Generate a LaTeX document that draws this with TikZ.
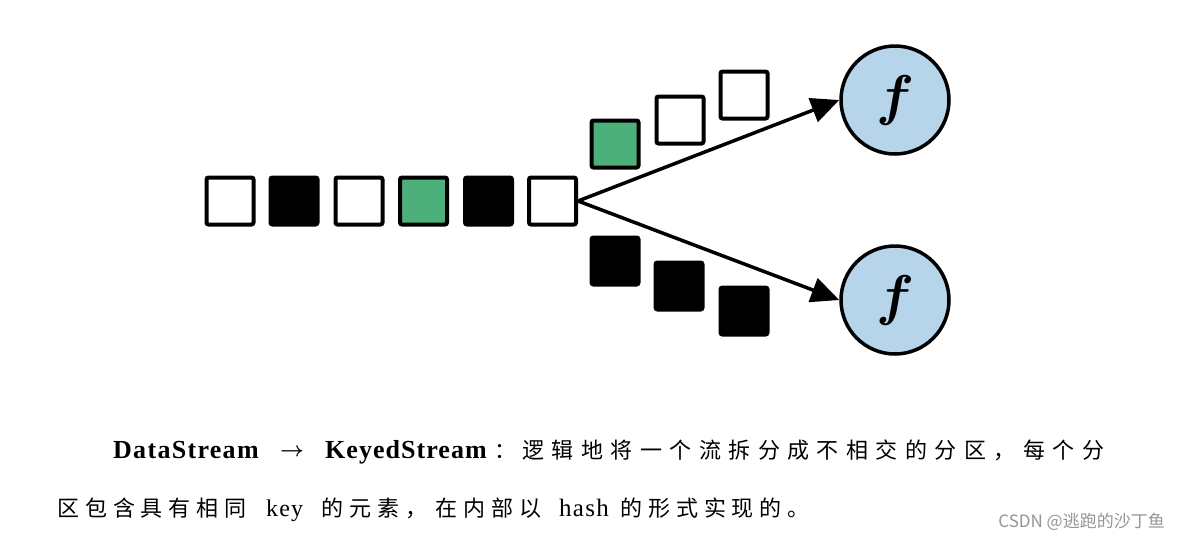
\documentclass[tikz,border=0pt]{standalone}
\usepackage{fontspec}
\setmainfont{Liberation Serif}
\newfontfamily\cjk{Noto Sans CJK SC}
\newfontfamily\cjkA[LetterSpace=34]{Noto Sans CJK SC}
\newfontfamily\cjkB[LetterSpace=27]{Noto Sans CJK SC}
\usetikzlibrary{arrows.meta}
\definecolor{grn}{RGB}{77,176,122}
\definecolor{fblue}{RGB}{182,212,234}
\definecolor{wm}{RGB}{150,150,150}
\tikzset{
 sq/.style={draw=black, line width=4pt, minimum size=47pt, inner sep=0pt, rounded corners=2pt},
 wsq/.style={sq, fill=white},
 bsq/.style={sq, fill=black},
 gsq/.style={sq, fill=grn},
 fn/.style={circle, draw=black, line width=3.5pt, fill=fblue, minimum size=108pt, inner sep=0pt, font=\boldmath},
 arr/.style={line width=3.5pt, -{Triangle[length=28pt,width=25pt]}},
 txt/.style={anchor=base west, inner sep=0pt},
}
\begin{document}
\begin{tikzpicture}[x=1pt,y=-1pt]
\path[use as bounding box, fill=white] (0,0) rectangle (1181,542);
% input row
\node[wsq] (s1) at (230,201) {};
\node[bsq] (s2) at (294,201) {};
\node[wsq] (s3) at (359,201) {};
\node[gsq] (s4) at (423.5,201) {};
\node[bsq] (s5) at (488.5,201) {};
\node[wsq] (s6) at (552.5,201) {};
% upper partition
\node[gsq] (u1) at (615,144) {};
\node[wsq] (u2) at (680,120) {};
\node[wsq] (u3) at (744,95) {};
% lower partition
\node[bsq] (l1) at (615,261) {};
\node[bsq] (l2) at (679,286) {};
\node[bsq] (l3) at (744,311) {};
% functions
\node[fn] (f1) at (895,100) {\scalebox{5.6}{$f$}};
\node[fn] (f2) at (895,300) {\scalebox{5.6}{$f$}};
\draw[arr] (s6.east) -- (f1.west);
\draw[arr] (s6.east) -- (f2.west);
% caption
\node[txt, font=\fontsize{26}{26}\selectfont\bfseries\addfontfeature{LetterSpace=5}] (t1) at (113,458) {DataStream};
\node[txt, font=\fontsize{22}{22}\selectfont\boldmath] (t2) at (280,456) {$\rightarrow$};
\node[txt, font=\fontsize{26}{26}\selectfont\bfseries\addfontfeature{LetterSpace=4}] (t3) at (325,458) {KeyedStream};
\node[txt, font=\fontsize{22}{22}\selectfont\cjk] (t4) at (494,458) {：};
\node[txt, font=\fontsize{22}{22}\selectfont\cjkA] (t5) at (522,458) {逻辑地将一个流拆分成不相交的分区，每个分};
\node[txt, font=\fontsize{22}{22}\selectfont\cjkB] (t6) at (57,516) {区包含具有相同};
\node[txt, font=\fontsize{24}{24}\selectfont\addfontfeature{LetterSpace=5}] (t7) at (266,516) {key};
\node[txt, font=\fontsize{22}{22}\selectfont\cjkB] (t8) at (321,516) {的元素，};
\node[txt, font=\fontsize{22}{22}\selectfont\cjkB] (t9) at (435,516) {在内部以};
\node[txt, font=\fontsize{25}{25}\selectfont\addfontfeature{LetterSpace=5}] (t10) at (559,516) {hash};
\node[txt, font=\fontsize{22}{22}\selectfont\cjkB] (t11) at (620,516) {的形式实现的。};
% watermark
\node[anchor=east, inner sep=0pt, text=wm, font=\fontsize{17}{17}\selectfont\cjk] (wmk) at (1165,522) {CSDN @逃跑的沙丁鱼};
\end{tikzpicture}
\end{document}
